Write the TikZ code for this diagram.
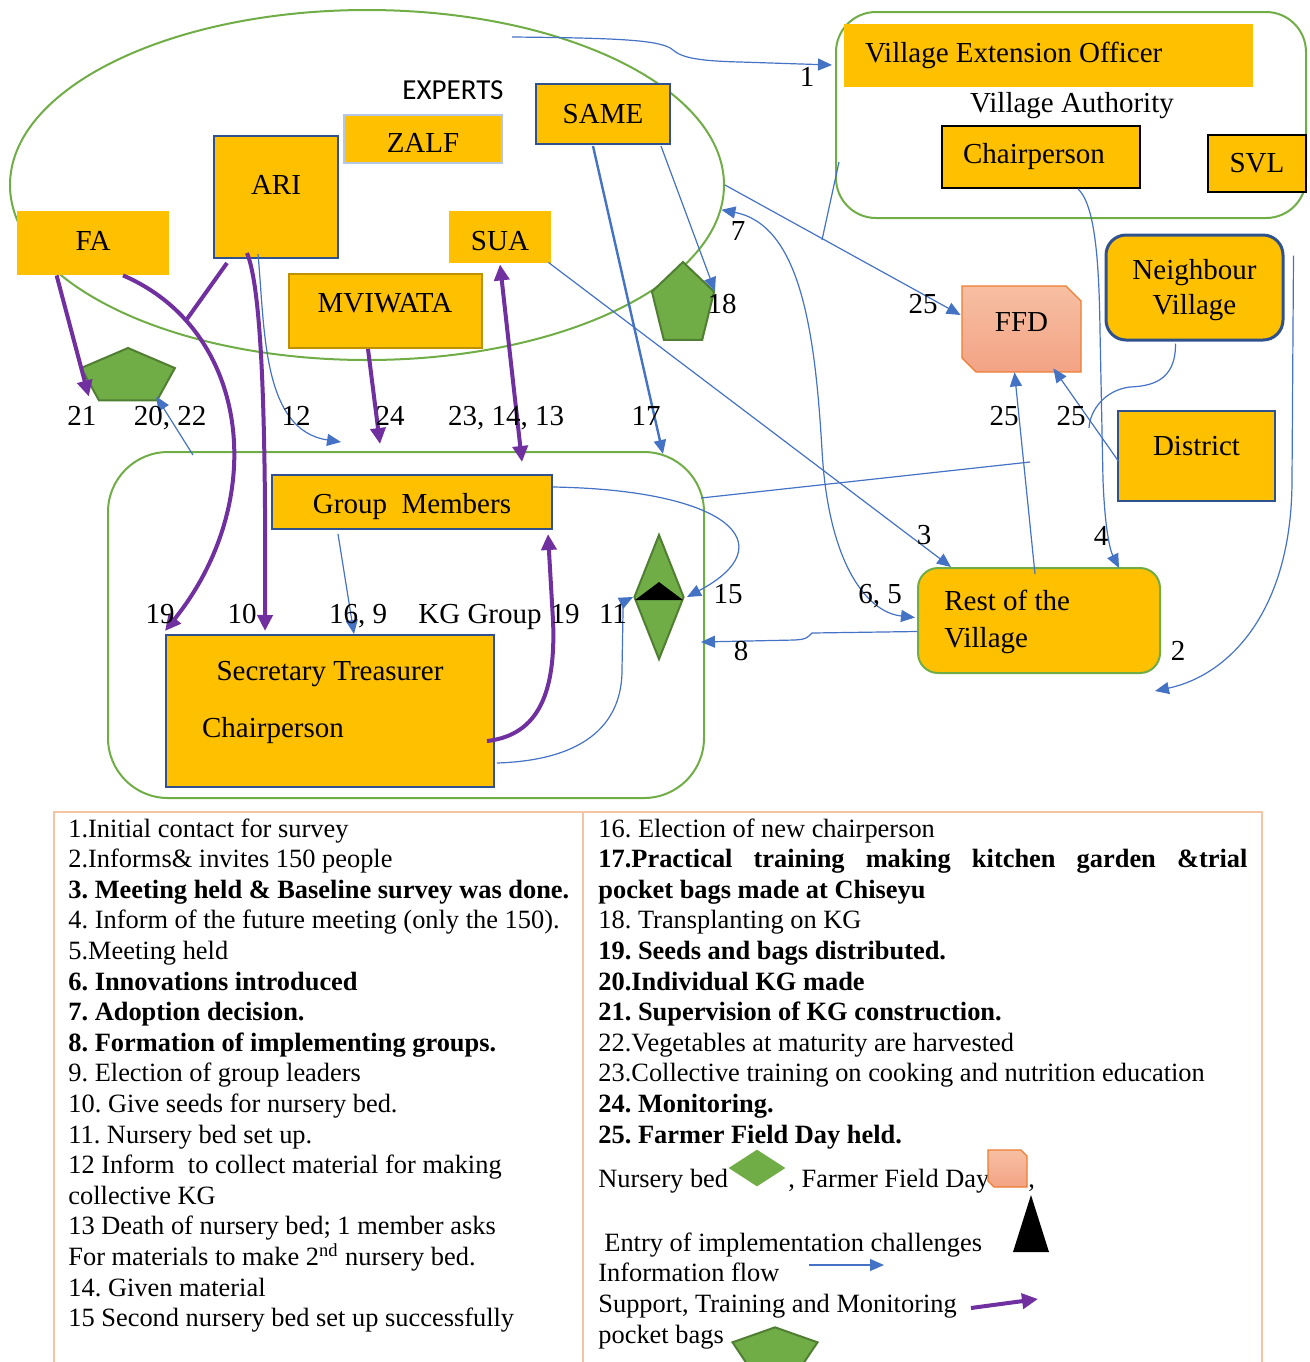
\documentclass[tikz,border=0pt]{standalone}
\usepackage{fontspec}
\setmainfont{Liberation Serif}
\newfontfamily\expertsfont{Carlito}
\usetikzlibrary{arrows.meta,shapes.geometric,calc}
\frenchspacing

\definecolor{gold}{HTML}{FFC000}
\definecolor{grn}{HTML}{70AD47}
\definecolor{dkgrn}{HTML}{507E32}
\definecolor{infoblue}{HTML}{4472C4}
\definecolor{purp}{HTML}{7030A0}
\definecolor{boxblue}{HTML}{2F528F}
\definecolor{zalfline}{HTML}{B4C7E7}
\definecolor{mvline}{HTML}{BF9000}
\definecolor{ffdtop}{HTML}{F7BFA2}
\definecolor{ffdbot}{HTML}{F3A385}
\definecolor{ffdline}{HTML}{ED7D31}
\definecolor{keyframe}{HTML}{F5C4A2}

\newcommand{\dfont}{\fontsize{14.5}{17}\selectfont}
\newcommand{\lfont}{\fontsize{13.2}{15.3}\selectfont}

\tikzset{
  goldbox/.style={fill=gold,inner sep=0pt},
  bluebox/.style={goldbox,draw=boxblue,line width=1pt},
  blackbox/.style={goldbox,draw=black,line width=0.8pt},
  grncont/.style={draw=grn,line width=1pt,inner sep=0pt},
  pocket/.style={regular polygon,regular polygon sides=5,fill=grn,draw=dkgrn,line width=1pt,inner sep=0pt},
  infoline/.style={draw=infoblue,line width=0.6pt},
  info/.style={infoline,>={Triangle[length=7pt,width=6pt]},->},
  support/.style={draw=purp,line width=2pt,>={Triangle[length=8pt,width=7.5pt]},->},
  num/.style={anchor=base},
  keytext/.style={anchor=base west,inner sep=0pt,font=\lfont}
}

\begin{document}
\begin{tikzpicture}[x=0.5pt,y=-0.5pt,font=\dfont]
\useasboundingbox (0,0) rectangle (1310,1362);

\node[grncont,ellipse,minimum width=357pt,minimum height=175pt] (experts) at (367,185) {};
\node[grncont,rounded corners=30pt,minimum width=298pt,minimum height=173pt] (kggroup) at (406,625) {};
\node[grncont,rounded corners=20pt,minimum width=235pt,minimum height=103pt] (va) at (1071,115) {};

\node[goldbox,minimum width=76pt,minimum height=32pt,text height=7pt,text depth=0pt] (fa) at (93,243) {FA};
\node[bluebox,minimum width=62pt,minimum height=61pt,label={[yshift=5.8pt]center:ARI}] (ari) at (276,197) {};
\node[goldbox,draw=zalfline,line width=0.8pt,minimum width=79pt,minimum height=24pt,text height=13pt,text depth=0pt] (zalf) at (423,139) {ZALF};
\node[bluebox,minimum width=67pt,minimum height=30pt] (same) at (603,114) {SAME};
\node[goldbox,minimum width=51pt,minimum height=26pt,text height=13pt,text depth=0pt] (sua) at (500,237) {SUA};
\node[goldbox,draw=mvline,line width=1pt,minimum width=96.5pt,minimum height=37pt,label={[yshift=3.8pt]center:MVIWATA}] (mviwata) at (385,311) {};
\node[anchor=base,font=\expertsfont\fontsize{14.5}{17}\selectfont] (expertslbl) at (453,99) {EXPERTS};
\node[pocket,minimum size=29pt,xscale=1.7] (pent1) at (128,377) {};
\node[pocket,minimum size=43pt,xscale=0.76] (pent2) at (683,305) {};

\node[bluebox,minimum width=140pt,minimum height=27pt,text height=11pt,text depth=0pt] (members) at (412,502) {Group\ \ Members};
\node[bluebox,minimum width=164pt,minimum height=76pt,
  label={[yshift=18.5pt]center:Secretary Treasurer},
  label={[xshift=-28.5pt,yshift=-10pt]center:Chairperson}] (officials) at (330,711) {};
\node[diamond,fill=grn,draw=dkgrn,line width=1pt,inner sep=0pt,minimum width=25pt,minimum height=62.5pt] (nursery) at (659,597) {};
\fill (659,582) -- (683,600) -- (635,600) -- cycle;

\node[goldbox,minimum width=204.5pt,minimum height=31.5pt,label={[anchor=west,inner sep=0pt,xshift=10.5pt]west:Village Extension Officer}] (veo) at (1048.5,55.5) {};
\node[num] (vatitle) at (1072,112) {Village Authority};
\node[blackbox,minimum width=99pt,minimum height=31pt,label={[xshift=-3.5pt]center:Chairperson}] (vachair) at (1041,157) {};
\node[blackbox,minimum width=49pt,minimum height=28.5pt] (svl) at (1257,163.5) {SVL};
\node[goldbox,draw=boxblue,line width=1.5pt,rounded corners=10pt,minimum width=88.5pt,minimum height=52.5pt,
  label={[yshift=-1.5pt,align=center,font=\fontsize{14.5}{17.5}\selectfont]center:Neighbour\\Village}] (neighbour) at (1194.5,287.5) {};
\shadedraw[top color=ffdtop,bottom color=ffdbot,draw=ffdline,line width=0.7pt] (962,286) -- (1066,286) -- (1081,301) -- (1081,372) -- (976,372) -- (962,358) -- cycle;
\node[inner sep=0pt,minimum width=59.5pt,minimum height=43pt,label={[yshift=3.3pt]center:FFD}] (ffd) at (1021.5,329) {};
\node[bluebox,minimum width=78.5pt,minimum height=45pt,label={[yshift=4.9pt]center:District}] (district) at (1196.5,456) {};
\node[goldbox,draw=grn,line width=1pt,rounded corners=10pt,minimum width=121pt,minimum height=52.5pt,
  label={[anchor=west,inner sep=0pt,xshift=13.5pt,yshift=-0.6pt,align=left,font=\fontsize{14.5}{18.5}\selectfont]west:Rest of the\\Village}] (rest) at (1039,620.5) {};

\coordinate (c1) at (512,37);
\draw[info] (c1) .. controls (620,38) and (662,40) .. (673,50) .. controls (682,58) and (700,61) .. (740,62) -- ($(va.north west)+(-3,54)$);
\draw[info] ($(neighbour.north east)+(9,22)$) -- (1292,480) .. controls (1292,610) and (1230,675) .. ($(rest.south east)+(-6,17)$);
\draw[info] ($(sua.south east)+(-3,-1)$) -- ($(rest.north west)+(34,0)$);
\draw[info] ($(vachair.south)+(37,0)$) .. controls (1095,205) and (1099,260) .. (1100,330) -- (1103,480) .. controls (1105,530) and (1110,550) .. ($(rest.north east)+(-42,1)$);
\draw[info,<->] (experts.-4) .. controls (800,225) and (815,330) .. (822,450) .. controls (828,560) and (865,612) .. ($(rest.west)+(-2,-3)$);
\draw[info] ($(rest.west)+(0,11)$) -- (812,633) .. controls (806,639) .. (795,640) -- ($(kggroup.east)+(-4,17)$);
\draw[info] ($(members.north east)+(0,13)$) .. controls (730,490) and (785,545) .. ($(nursery.east)+(2,0)$);
\draw[info] ($(officials.south east)+(2,-25)$) .. controls (590,760) and (622,720) .. (622,670) -- (623,612) .. controls (623,602) .. (nursery.west);
\draw[info] ($(members.south)+(-74,4)$) -- ($(officials.north)+(24,0)$);
\draw[info] ($(ari.south)+(-18,-5)$) .. controls (265,330) and (262,430) .. ($(kggroup.north west)+(234,-9)$);
\draw[info] ($(kggroup.north west)+(86,4)$) -- ($(pent1.corner 4)+(-2,-5)$);
\draw[info,line width=1.2pt] ($(same.south west)+(58,1)$) -- ($(kggroup.north east)+(-42,3)$);
\draw[info] ($(same.south east)+(-10,1)$) -- (pent2.corner 5);
\draw[info] (experts.east) -- ($(ffd.west)+(-1,-14)$);
\coordinate (vaend) at (822,240);
\draw[infoline] ($(va.west)+(4,47)$) -- (vaend);
\draw[info] ($(rest.north)+(-4,7)$) -- ($(ffd.south)+(-7,0)$);
\draw[info] ($(district.west)+(2,6)$) -- ($(ffd.south east)+(-28,-4)$);
\coordinate (nbend) at (1089,428);
\draw[infoline] ($(neighbour.south)+(-19,2)$) .. controls (1176,382) and (1150,386) .. (1130,387) .. controls (1105,390) and (1090,410) .. (nbend);
\coordinate (grpend) at (1030,462);
\draw[infoline] ($(kggroup.east)+(-4,-127)$) -- (grpend);

\draw[support] ($(fa.south west)+(40,0)$) -- ($(pent1.corner 3)+(-9,-5)$);
\draw[support] ($(fa.south)+(30,0)$) .. controls (250,330) and (270,500) .. ($(officials.north west)+(0,-3)$);
\coordinate (arijoin) at (187,319);
\draw[support,-] ($(ari.south west)+(14,4)$) -- (arijoin);
\draw[support] ($(ari.south)+(-29,-6)$) .. controls (262,290) and (266,420) .. ($(officials.north west)+(100,-3)$);
\draw[support] ($(mviwata.south)+(-17,0)$) -- ($(kggroup.north west)+(273,-7)$);
\draw[support,<->] ($(sua.south)+(0,1)$) -- ($(members.north east)+(-31,-12)$);
\draw[support] ($(officials.east)+(-8,30)$) .. controls (540,735) and (556,690) .. (553,620) -- ($(members.south east)+(-5,4)$);

\node[num] (n21) at (82,425) {21};
\node[num] (n2022) at (170,425) {20, 22};
\node[num] (n12) at (296,425) {12};
\node[num] (n24) at (390,425) {24};
\node[num] (n231413) at (506,425) {23, 14, 13};
\node[num] (n17) at (646,425) {17};
\node[num] (n25a) at (923,313) {25};
\node[num] (n25b) at (1004,425) {25};
\node[num] (n25c) at (1071,425) {25};
\node[num] (n18) at (722,313) {18};
\node[num] (n7) at (738,240) {7};
\node[num] (n1) at (807,86) {1};
\node[num] (n3) at (924,544) {3};
\node[num] (n4) at (1101,545) {4};
\node[num] (n65) at (880,603) {6, 5};
\node[num] (n15) at (728,603) {15};
\node[num] (n2) at (1178,660) {2};
\node[num] (n8) at (741,660) {8};
\node[num] (n19a) at (160,623) {19};
\node[num] (n10) at (242,623) {10};
\node[num] (n169) at (358,623) {16, 9};
\node[num] (kglbl) at (480,623) {KG Group};
\node[num] (n19b) at (565,623) {19};
\node[num] (n11) at (613,623) {11};

\draw[keyframe,line width=1pt] (54,1380) -- (54,812) -- (1262,812) -- (1262,1380) (583,812) -- (583,1380);
\foreach \keyline [count=\k from 0] in {{1.Initial contact for survey},{2.Informs\& invites 150 people},
  {\textbf{3. Meeting held \& Baseline survey was done.}},{4. Inform of the future meeting (only the 150).},
  {5.Meeting held},{\textbf{6. Innovations introduced}},{\textbf{7. Adoption decision.}},
  {\textbf{8. Formation of implementing groups.}},{9. Election of group leaders},{10. Give seeds for nursery bed.},
  {11. Nursery bed set up.},{12 Inform\ \ to collect material for making},{collective KG},
  {13 Death of nursery bed; 1 member asks},{For materials to make 2\textsuperscript{nd} nursery bed.},
  {14. Given material},{15 Second nursery bed set up successfully}}
  \node[keytext] (left\k) at (68,{837+30.6*\k}) {\keyline};
\foreach \keyline [count=\k from 0] in {{16. Election of new chairperson},
  {\makebox[324.5pt][s]{\textbf{17.Practical training making kitchen garden \&trial}}},
  {\textbf{pocket bags made at Chiseyu}},{18. Transplanting on KG},{\textbf{19. Seeds and bags distributed.}},
  {\textbf{20.Individual KG made}},{\textbf{21. Supervision of KG construction.}},
  {22.Vegetables at maturity are harvested},{23.Collective training on cooking and nutrition education},
  {\textbf{24. Monitoring.}},{\textbf{25. Farmer Field Day held.}}}
  \node[keytext] (right\k) at (598,{837+30.6*\k}) {\keyline};

\node[keytext] (knursery) at (598,1187) {Nursery bed};
\node[diamond,fill=grn,inner sep=0pt,minimum width=28.5pt,minimum height=18.5pt] (nurserykey) at (757,1168) {};
\node[keytext] (kffd) at (788,1187) {, Farmer Field Day};
\shadedraw[top color=ffdtop,bottom color=ffdbot,draw=ffdline,line width=0.7pt] (988,1150) -- (1021,1150) -- (1027,1156) -- (1027,1187) -- (994,1187) -- (988,1181) -- cycle;
\node[keytext] (kcomma) at (1028,1187) {,};
\fill (1031,1195) -- (1049,1252) -- (1013,1252) -- cycle;
\node[keytext] (kentry) at (604,1251) {Entry of implementation challenges};
\node[keytext] (kinfo) at (598,1281) {Information flow};
\coordinate (kinfoa) at (809,1265); \coordinate (kinfob) at (884,1265);
\draw[info] (kinfoa) -- (kinfob);
\node[keytext] (ksupport) at (598,1312) {Support, Training and Monitoring};
\coordinate (ksupa) at (971,1308); \coordinate (ksupb) at (1038,1299);
\draw[support] (ksupa) -- (ksupb);
\node[keytext] (kpocket) at (598,1343) {pocket bags};
\node[pocket,minimum size=21.7pt,xscale=2.06] (pocketkey) at (775,1349) {};
\end{tikzpicture}
\end{document}
